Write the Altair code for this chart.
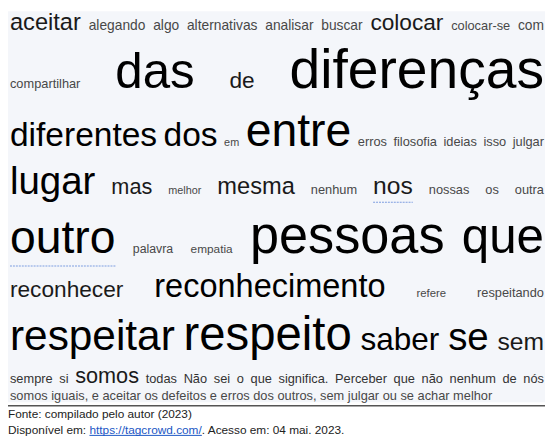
import altair as alt
import pandas as pd

FONT = "Liberation Sans"

# ---- word cloud content (word, font size) per line ----
ROW1_WORDS = ["aceitar", "alegando", "algo", "alternativas", "analisar", "buscar", "colocar", "colocar-se", "com"]
ROW1_SIZES = [24, 14, 14, 14, 14, 14, 23, 13, 14]
ROW2_WORDS = ["compartilhar", "das", "de", "diferenças"]
ROW2_SIZES = [13, 50, 23, 56]
ROW3_WORDS = ["diferentes", "dos", "em", "entre", "erros", "filosofia", "ideias", "isso", "julgar"]
ROW3_SIZES = [34, 34, 11, 47, 13, 13, 13, 13, 13]
ROW4_WORDS = ["lugar", "mas", "melhor", "mesma", "nenhum", "nos", "nossas", "os", "outra"]
ROW4_SIZES = [39, 22, 11, 24, 13, 25, 13, 13, 13]
ROW5_WORDS = ["outro", "palavra", "empatia", "pessoas", "que"]
ROW5_SIZES = [47, 12.5, 12, 53, 50]
ROW6_WORDS = ["reconhecer", "reconhecimento", "refere", "respeitando"]
ROW6_SIZES = [23, 33, 11.5, 13]
ROW7_WORDS = ["respeitar", "respeito", "saber", "se", "sem"]
ROW7_SIZES = [43, 48, 32, 39, 25]
ROW8_WORDS = ["sempre", "si", "somos", "todas"]
ROW8_SIZES = [13, 13, 22, 13]
PHRASE_LINE1 = "Não sei o que significa. Perceber que não nenhum de nós"
PHRASE_LINE2 = "somos iguais, e aceitar os defeitos e erros dos outros, sem julgar ou se achar melhor"
PHRASE_SIZE = 13
SPELLCHECK_WORDS = ["outro", "nos"]

FOOT_1 = "Fonte: compilado pelo autor (2023)"
FOOT_2A = "Disponível em: "
FOOT_LINK = "https://tagcrowd.com/"
FOOT_2B = ". Acesso em: 04 mai. 2023."
FOOT_SIZE = 12

# ---- Arial / Liberation Sans advance widths (1/1000 em) ----
W = {" ": 278, ",": 278, "-": 333, ".": 278, "/": 278, ":": 278, "(": 333, ")": 333,
     "a": 556, "b": 556, "c": 500, "d": 556, "e": 556, "f": 278, "g": 556, "h": 556,
     "i": 222, "j": 222, "k": 500, "l": 222, "m": 833, "n": 556, "o": 556, "p": 556,
     "q": 556, "r": 333, "s": 500, "t": 278, "u": 556, "v": 500, "w": 722, "x": 500,
     "y": 500, "z": 500, "ã": 556, "ç": 500, "ó": 556, "í": 278,
     "A": 667, "D": 722, "F": 611, "N": 722, "P": 667}


def tw(s, size):
    return sum(W.get(ch, 556) for ch in s) / 1000.0 * size


def colour(size):
    if size >= 30:
        return "#000000"
    if size >= 20:
        return "#1a1a1a"
    return "#484848"


WIDTH, HEIGHT = 545, 436
LEFT, RIGHT = 2, 544
FIRST_BASE = 19

rows = [
    (ROW1_WORDS, ROW1_SIZES, True),
    (ROW2_WORDS, ROW2_SIZES, True),
    (ROW3_WORDS, ROW3_SIZES, True),
    (ROW4_WORDS, ROW4_SIZES, True),
    (ROW5_WORDS, ROW5_SIZES, True),
    (ROW6_WORDS, ROW6_SIZES, True),
    (ROW7_WORDS, ROW7_SIZES, True),
    (ROW8_WORDS + PHRASE_LINE1.split(" "),
     ROW8_SIZES + [PHRASE_SIZE] * len(PHRASE_LINE1.split(" ")), True),
    ([PHRASE_LINE2], [PHRASE_SIZE], False),
]

recs = []
squig = []
base = FIRST_BASE
prev = None
for words, sizes, justify in rows:
    mx = max(sizes)
    if prev is not None:
        base += 0.25 * prev + 0.95 * mx
    prev = mx
    widths = [tw(w, s) for w, s in zip(words, sizes)]
    if justify and len(words) > 1:
        gap = (RIGHT - LEFT - sum(widths)) / (len(words) - 1)
    else:
        gap = tw(" ", sizes[0])
    x = LEFT
    for w, s, wd in zip(words, sizes, widths):
        recs.append({"word": w, "size": s, "x": x, "y": base,
                     "color": colour(s) if len(words) < 10 or s > PHRASE_SIZE else "#333333"})
        if w in SPELLCHECK_WORDS and s > 20:
            squig.append({"x": x, "x2": x + wd, "y": base + 0.21 * s + 3})
        x += wd + gap

words_df = pd.DataFrame(recs)
squig_df = pd.DataFrame(squig)

SEP_Y = 400.5
fb1 = SEP_Y + 12.5
fb2 = fb1 + 16
link_x = tw(FOOT_2A, FOOT_SIZE)
link_x2 = link_x + tw(FOOT_LINK, FOOT_SIZE)
foot_df = pd.DataFrame([
    {"t": FOOT_1, "x": 0, "y": fb1, "color": "#222222"},
    {"t": FOOT_2A, "x": 0, "y": fb2, "color": "#222222"},
    {"t": FOOT_LINK, "x": link_x, "y": fb2, "color": "#1a56c4"},
    {"t": FOOT_2B, "x": link_x2, "y": fb2, "color": "#222222"},
])
link_df = pd.DataFrame([{"x": link_x, "x2": link_x2, "y": fb2 + 1.5}])

xs = alt.Scale(domain=[0, WIDTH], range=[0, WIDTH], nice=False, zero=False)
ys = alt.Scale(domain=[0, HEIGHT], range=[0, HEIGHT], nice=False, zero=False)

one = pd.DataFrame({"k": [0]})
bg = alt.Chart(one).mark_rect(color="#f4f6fa").encode(
    x=alt.value(0), x2=alt.value(WIDTH), y=alt.value(0), y2=alt.value(397))
sep = alt.Chart(one).mark_rule(color="#555555", strokeWidth=1.5).encode(
    x=alt.value(0), x2=alt.value(WIDTH), y=alt.value(SEP_Y))

txt = alt.Chart(words_df).mark_text(align="left", baseline="alphabetic", font=FONT).encode(
    x=alt.X("x:Q", scale=xs, axis=None),
    y=alt.Y("y:Q", scale=ys, axis=None),
    size=alt.Size("size:Q", scale=None, legend=None),
    color=alt.Color("color:N", scale=None, legend=None),
    text="word:N",
)
sq = alt.Chart(squig_df).mark_rule(color="#7d9de0", strokeWidth=1.2, strokeDash=[2, 1]).encode(
    x=alt.X("x:Q", scale=xs, axis=None), x2="x2:Q",
    y=alt.Y("y:Q", scale=ys, axis=None))
foot = alt.Chart(foot_df).mark_text(align="left", baseline="alphabetic", font=FONT,
                                    fontSize=FOOT_SIZE).encode(
    x=alt.X("x:Q", scale=xs, axis=None),
    y=alt.Y("y:Q", scale=ys, axis=None),
    color=alt.Color("color:N", scale=None, legend=None),
    text="t:N",
)
link = alt.Chart(link_df).mark_rule(color="#1a56c4", strokeWidth=1).encode(
    x=alt.X("x:Q", scale=xs, axis=None), x2="x2:Q",
    y=alt.Y("y:Q", scale=ys, axis=None))

chart = alt.layer(bg, sep, sq, txt, foot, link).properties(
    width=WIDTH, height=HEIGHT, padding=0, autosize="none", background="#ffffff"
).configure_view(stroke=None)

chart.save("out.html", embed_options={"renderer": "svg", "actions": False})
